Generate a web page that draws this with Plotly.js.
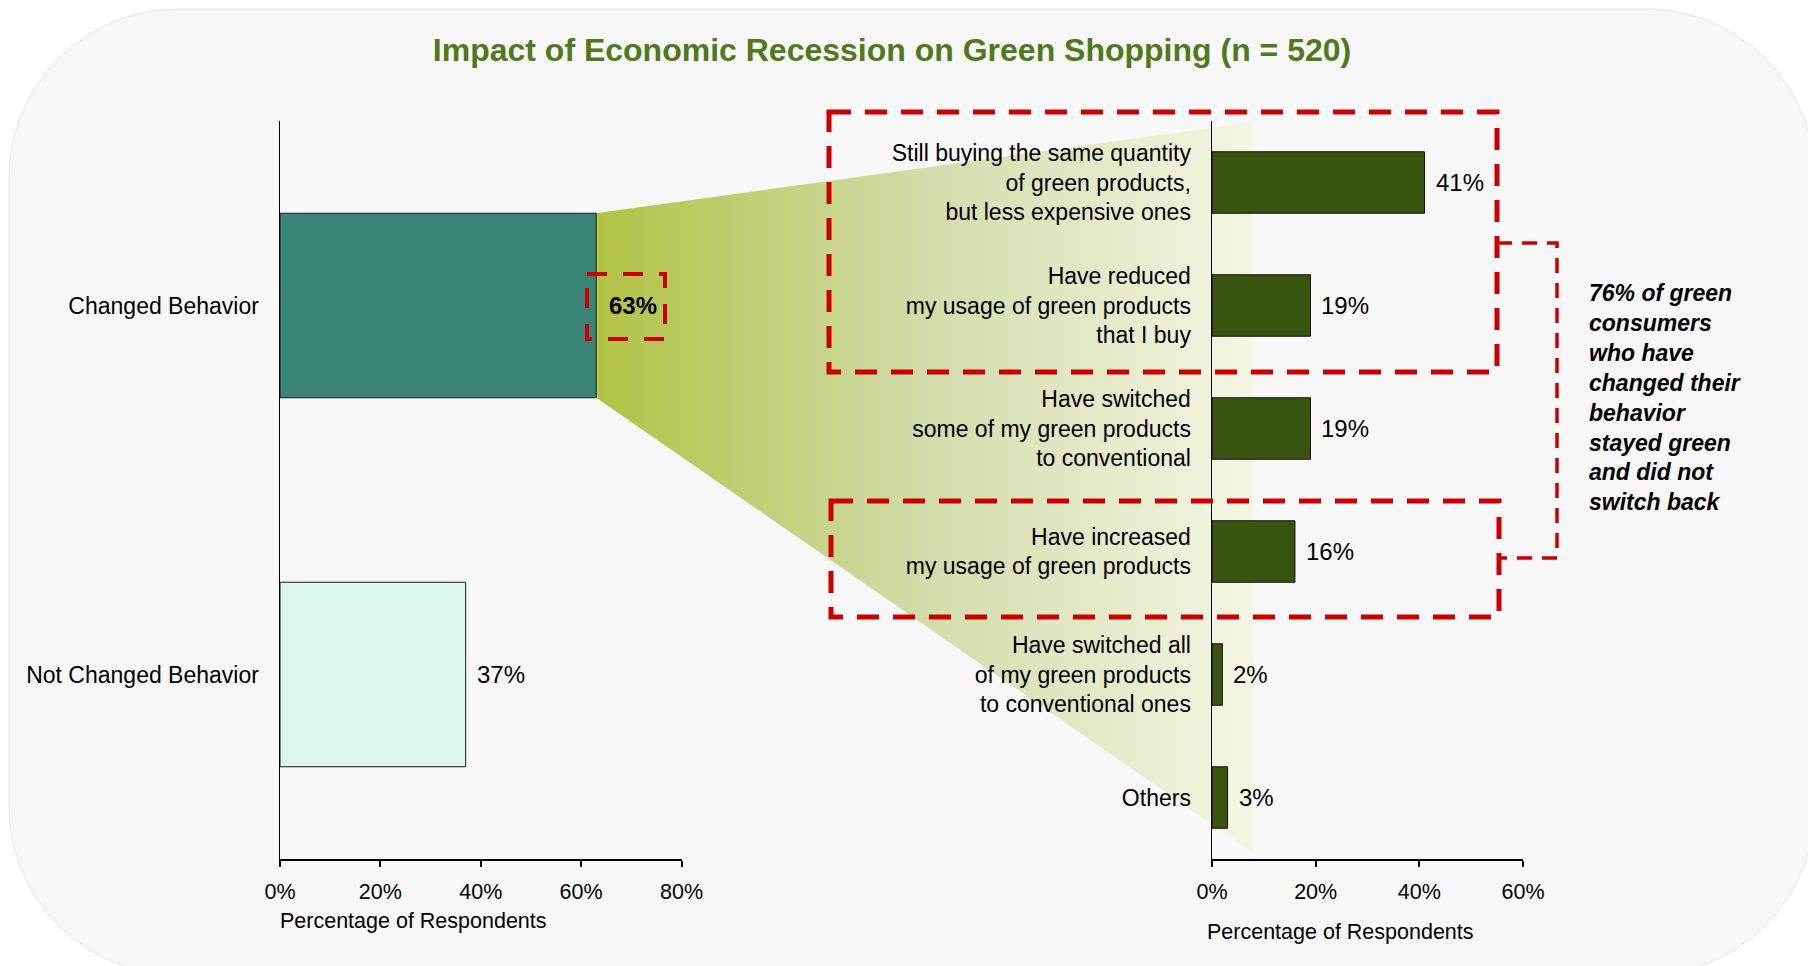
<!DOCTYPE html>
<html>
<head>
<meta charset="utf-8">
<script src="https://cdn.plot.ly/plotly-3.0.1.min.js"></script>
<style>html,body{margin:0;padding:0;background:#fff;}#chart{width:1808px;height:966px;}</style>
</head>
<body>
<div id="chart"></div>
<script>
// ---------- data ----------
const leftCategories = ['Changed Behavior', 'Not Changed Behavior'];
const leftValues = [63, 37];
const rightCategories = [
  'Still buying the same quantity<br>of green products,<br>but less expensive ones',
  'Have reduced<br>my usage of green products<br>that I buy',
  'Have switched<br>some of my green products<br>to conventional',
  'Have increased<br>my usage of green products',
  'Have switched all<br>of my green products<br>to conventional ones',
  'Others'
];
const rightValues = [41, 19, 19, 16, 2, 3];
const leftTicks = [0, 20, 40, 60, 80];
const rightTicks = [0, 20, 40, 60];
const leftTickText = ['0%', '20%', '40%', '60%', '80%'];
const rightTickText = ['0%', '20%', '40%', '60%'];
const chartTitle = 'Impact of Economic Recession on Green Shopping (n = 520)';
const axisTitle = 'Percentage of Respondents';
const calloutText = '76% of green<br>consumers<br>who have<br>changed their<br>behavior<br>stayed green<br>and did not<br>switch back';

// ---------- layout geometry (pixels) ----------
const W = 1808, H = 966;
const px = x => x / W, py = y => 1 - y / H;
const L_X0 = 280, L_X1 = 681.5, R_X0 = 1212, R_X1 = 1523, Y_TOP = 121, Y_BOT = 859;
const L_MAX = 80, R_MAX = 60;
const lx = v => L_X0 + v / L_MAX * (L_X1 - L_X0);
const rx = v => R_X0 + v / R_MAX * (R_X1 - R_X0);
const ly = i => Y_TOP + (i + 0.5) / leftCategories.length * (Y_BOT - Y_TOP);
const BARW = 0.5;

const FONT = 'Liberation Sans, Arial, Helvetica, sans-serif';
const RED = '#cc0000';

// funnel connector from the "Changed" bar to the right chart
const funnelX = [lx(leftValues[0]), rx(8), rx(8), lx(leftValues[0]), lx(leftValues[0])];
const funnelY = [ly(-BARW / 2), Y_TOP + 1, Y_BOT - 6, ly(BARW / 2), ly(-BARW / 2)];

const traces = [
  {
    type: 'scatter', mode: 'lines', x: funnelX, y: funnelY, xaxis: 'x', yaxis: 'y',
    fill: 'toself', line: {width: 0, color: 'rgba(0,0,0,0)'},
    fillgradient: {type: 'horizontal', colorscale: [[0, '#b0c345'], [0.5, '#d2dcaa'], [1, '#f4f6e4']]},
    hoverinfo: 'skip', showlegend: false
  },
  {
    type: 'bar', orientation: 'h', x: leftValues, y: leftCategories, xaxis: 'x2', yaxis: 'y2',
    width: BARW, marker: {color: ['#3a8478', '#dcf6e9'], line: {color: '#1a1a1a', width: 1}},
    hoverinfo: 'skip', showlegend: false
  },
  {
    type: 'bar', orientation: 'h', x: rightValues, y: rightCategories, xaxis: 'x3', yaxis: 'y3',
    width: BARW, marker: {color: '#3b5311', line: {color: '#111', width: 1}},
    hoverinfo: 'skip', showlegend: false
  }
];

const annotations = [];
leftValues.forEach((v, i) => annotations.push({
  xref: 'x2', yref: 'y2', x: v, y: leftCategories[i], xanchor: 'left', yanchor: 'middle',
  xshift: i === 0 ? 11 : 9, text: v + '%', showarrow: false,
  font: {family: FONT, size: 24, color: '#000', weight: i === 0 ? 'bold' : 'normal'}
}));
rightValues.forEach((v, i) => annotations.push({
  xref: 'x3', yref: 'y3', x: v, y: rightCategories[i], xanchor: 'left', yanchor: 'middle',
  xshift: 9, text: v + '%', showarrow: false, font: {family: FONT, size: 24, color: '#000'}
}));
annotations.push({xref: 'paper', yref: 'paper', x: px(278), y: py(921), xanchor: 'left', yanchor: 'middle',
  text: axisTitle, showarrow: false, font: {family: FONT, size: 21.5, color: '#000'}});
annotations.push({xref: 'paper', yref: 'paper', x: px(1205), y: py(932), xanchor: 'left', yanchor: 'middle',
  text: axisTitle, showarrow: false, font: {family: FONT, size: 21.5, color: '#000'}});
annotations.push({xref: 'paper', yref: 'paper', x: px(1587), y: py(397), xanchor: 'left', yanchor: 'middle',
  align: 'left', text: calloutText, showarrow: false,
  font: {family: FONT, size: 23, color: '#000', weight: 'bold', style: 'italic'}});

// background rounded panel
function roundRect(x0, y0, x1, y1, r) {
  const k = 0.5523 * r;
  const P = (x, y) => px(x) + ',' + py(y);
  return 'M' + P(x0 + r, y0) + ' L' + P(x1 - r, y0) +
    ' C' + P(x1 - r + k, y0) + ' ' + P(x1, y0 + r - k) + ' ' + P(x1, y0 + r) +
    ' L' + P(x1, y1 - r) +
    ' C' + P(x1, y1 - r + k) + ' ' + P(x1 - r + k, y1) + ' ' + P(x1 - r, y1) +
    ' L' + P(x0 + r, y1) +
    ' C' + P(x0 + r - k, y1) + ' ' + P(x0, y1 - r + k) + ' ' + P(x0, y1 - r) +
    ' L' + P(x0, y0 + r) +
    ' C' + P(x0, y0 + r - k) + ' ' + P(x0 + r - k, y0) + ' ' + P(x0 + r, y0) + ' Z';
}
const box = (x0, y0, x1, y1, w, dash) => ({type: 'rect', xref: 'paper', yref: 'paper',
  x0: px(x0), x1: px(x1), y0: py(y0), y1: py(y1), layer: 'above',
  line: {color: RED, width: w, dash: dash}, fillcolor: 'rgba(0,0,0,0)'});

const shapes = [
  {type: 'path', xref: 'paper', yref: 'paper', layer: 'below', path: roundRect(9, 9, 1815, 975, 170),
   fillcolor: '#f7f7f7', line: {color: '#e6e6e6', width: 1}},
  box(587, 274, 665, 339, 4, '20px,16px'),
  box(829, 112, 1497, 372, 5, '22px,14px'),
  box(831, 501, 1499, 617, 5, '22px,14px'),
  {type: 'path', xref: 'paper', yref: 'paper', layer: 'above',
   path: 'M' + px(1497) + ',' + py(243) + ' L' + px(1557) + ',' + py(243) + ' L' + px(1557) + ',' + py(558) +
     ' L' + px(1499) + ',' + py(558),
   line: {color: RED, width: 3.5, dash: '15px,10px'}}
];

const axisCommon = {showgrid: false, zeroline: false, fixedrange: true};
const layout = {
  width: W, height: H, margin: {l: 0, r: 0, t: 0, b: 0},
  paper_bgcolor: '#ffffff', plot_bgcolor: 'rgba(0,0,0,0)',
  font: {family: FONT, size: 22, color: '#000'},
  showlegend: false, bargap: 0,
  title: {text: chartTitle, x: px(892), xanchor: 'center', y: py(50), yanchor: 'middle',
    font: {family: FONT, size: 32, color: '#4e7a1c', weight: 'bold'}},
  xaxis: Object.assign({}, axisCommon, {domain: [0, 1], range: [0, W], visible: false}),
  yaxis: Object.assign({}, axisCommon, {domain: [0, 1], range: [H, 0], visible: false}),
  xaxis2: Object.assign({}, axisCommon, {anchor: 'y2', domain: [px(L_X0), px(L_X1)], range: [0, L_MAX],
    tickmode: 'array', tickvals: leftTicks, ticktext: leftTickText, showline: true, linecolor: '#000', linewidth: 2,
    ticks: 'outside', ticklen: 6, tickwidth: 2, tickcolor: '#000', ticklabelstandoff: 6,
    tickfont: {family: FONT, size: 21.5, color: '#000'}}),
  yaxis2: Object.assign({}, axisCommon, {anchor: 'x2', domain: [py(Y_BOT), py(Y_TOP)], type: 'category',
    range: [leftCategories.length - 0.5, -0.5], showline: true, linecolor: '#000', linewidth: 1.5,
    ticks: '', ticklabelstandoff: 15, tickfont: {family: FONT, size: 23, color: '#000'}}),
  xaxis3: Object.assign({}, axisCommon, {anchor: 'y3', domain: [px(R_X0), px(R_X1)], range: [0, R_MAX],
    tickmode: 'array', tickvals: rightTicks, ticktext: rightTickText, showline: true, linecolor: '#000', linewidth: 2,
    ticks: 'outside', ticklen: 6, tickwidth: 2, tickcolor: '#000', ticklabelstandoff: 6,
    tickfont: {family: FONT, size: 21.5, color: '#000'}}),
  yaxis3: Object.assign({}, axisCommon, {anchor: 'x3', domain: [py(Y_BOT), py(Y_TOP)], type: 'category',
    range: [rightCategories.length - 0.5, -0.5], showline: true, linecolor: '#000', linewidth: 1.5,
    ticks: '', ticklabelstandoff: 15, tickfont: {family: FONT, size: 23, color: '#000'}}),
  shapes: shapes, annotations: annotations
};

Plotly.newPlot('chart', traces, layout, {staticPlot: true, displayModeBar: false});
</script>
</body>
</html>
